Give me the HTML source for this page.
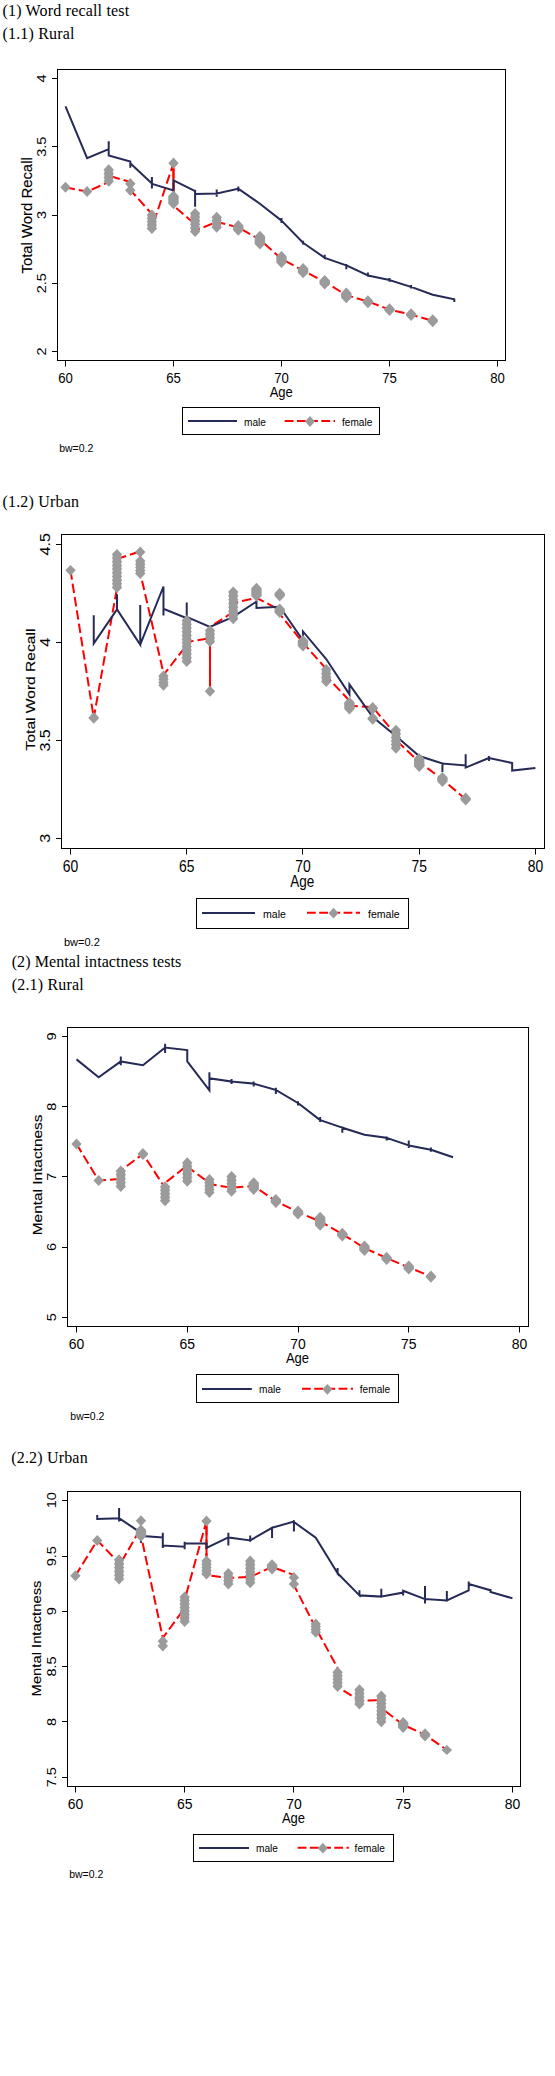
<!DOCTYPE html>
<html><head><meta charset="utf-8"><title>Word recall and mental intactness</title>
<style>
html,body{margin:0;padding:0;background:#fff;}
body{width:555px;height:2076px;position:relative;overflow:hidden;}
.t{position:absolute;left:0;font-family:"Liberation Serif", serif;font-size:16px;line-height:16px;color:#000;white-space:nowrap;letter-spacing:0.18px;}
svg{position:absolute;left:0;top:0;}
svg text{font-family:"Liberation Sans", sans-serif;fill:#000;}
</style></head><body>

<div class="t" style="left:2.5px;top:3.2px">(1) Word recall test</div>
<div class="t" style="left:2.5px;top:26.2px">(1.1) Rural</div>
<div class="t" style="left:2.5px;top:494.4px">(1.2) Urban</div>
<div class="t" style="left:11.7px;top:953.9px;letter-spacing:0.08px">(2) Mental intactness tests</div>
<div class="t" style="left:11.7px;top:977.1px">(2.1) Rural</div>
<div class="t" style="left:11.2px;top:1450.3px">(2.2) Urban</div>
<svg width="555" height="2076" viewBox="0 0 555 2076">
<rect x="57.5" y="69.5" width="448" height="291" fill="none" stroke="#000" stroke-width="1"/>
<line x1="52" y1="351.5" x2="57.5" y2="351.5" stroke="#000" stroke-width="1"/>
<text transform="translate(46.1 351.5) rotate(-90) scale(1 0.92)" text-anchor="middle" font-size="14.5">2</text>
<line x1="52" y1="283.5" x2="57.5" y2="283.5" stroke="#000" stroke-width="1"/>
<text transform="translate(46.1 283.25) rotate(-90) scale(1 0.92)" text-anchor="middle" font-size="14.5">2.5</text>
<line x1="52" y1="215.5" x2="57.5" y2="215.5" stroke="#000" stroke-width="1"/>
<text transform="translate(46.1 215) rotate(-90) scale(1 0.92)" text-anchor="middle" font-size="14.5">3</text>
<line x1="52" y1="146.5" x2="57.5" y2="146.5" stroke="#000" stroke-width="1"/>
<text transform="translate(46.1 146.75) rotate(-90) scale(1 0.92)" text-anchor="middle" font-size="14.5">3.5</text>
<line x1="52" y1="78.5" x2="57.5" y2="78.5" stroke="#000" stroke-width="1"/>
<text transform="translate(46.1 78.5) rotate(-90) scale(1 0.92)" text-anchor="middle" font-size="14.5">4</text>
<line x1="65.5" y1="360.5" x2="65.5" y2="366.5" stroke="#000" stroke-width="1"/>
<text transform="translate(65.5 383) scale(0.89 1)" text-anchor="middle" font-size="14.8">60</text>
<line x1="173.5" y1="360.5" x2="173.5" y2="366.5" stroke="#000" stroke-width="1"/>
<text transform="translate(173.5 383) scale(0.89 1)" text-anchor="middle" font-size="14.8">65</text>
<line x1="281.5" y1="360.5" x2="281.5" y2="366.5" stroke="#000" stroke-width="1"/>
<text transform="translate(281.5 383) scale(0.89 1)" text-anchor="middle" font-size="14.8">70</text>
<line x1="389.5" y1="360.5" x2="389.5" y2="366.5" stroke="#000" stroke-width="1"/>
<text transform="translate(389.5 383) scale(0.89 1)" text-anchor="middle" font-size="14.8">75</text>
<line x1="497.5" y1="360.5" x2="497.5" y2="366.5" stroke="#000" stroke-width="1"/>
<text transform="translate(497.5 383) scale(0.89 1)" text-anchor="middle" font-size="14.8">80</text>
<text transform="translate(281.2 396.5) scale(0.93 1)" text-anchor="middle" font-size="14">Age</text>
<text transform="translate(32.1 215.4) rotate(-90) scale(1 0.94)" text-anchor="middle" font-size="14.9" stroke="#000" stroke-width="0.15">Total Word Recall</text>
<polyline points="65.5,187.3 87.1,191.6 108.7,182 108.7,175.7 130.3,182 130.3,190 151.9,214 151.9,228 173.5,163.2 173.5,191.6 173.5,205.5 195.1,224.4 195.1,230.7 216.7,221.9 238.3,227.4 259.9,239.6 281.5,259 303.1,270.6 324.7,281.8 346.3,295.2 367.9,301.5 389.5,309.6 411.1,314.6 432.7,320.8" fill="none" stroke="#ff0000" stroke-width="2" stroke-dasharray="9.5 4" stroke-linejoin="round"/>
<line x1="173.5" y1="163.2" x2="173.5" y2="191.6" stroke="#ff0000" stroke-width="2"/>
<polyline points="65.5,106.4 87.1,158.1 108.7,149.2 108.7,141.2 108.7,155.5 130.3,161.5 130.3,167.7 130.3,161.1 130.3,163.2 151.9,183.4 151.9,177.1 151.9,188.5 151.9,183.8 173.5,190.4 173.5,180.3 195.1,191 195.1,206.7 195.1,189.7 195.1,194.1 216.7,193.6 216.7,189.6 216.7,196.7 216.7,193.6 238.3,188.6 238.3,186.6 238.3,191.6 238.3,188.6 259.9,203.7 281.5,220.6 281.5,218.1 281.5,223.1 281.5,220.6 303.1,242.8 303.1,240.8 303.1,244.6 303.1,242.8 324.7,257.8 324.7,254.8 324.7,259.1 324.7,257.8 346.3,265.4 346.3,264.1 346.3,269.2 346.3,265.4 367.9,275.5 367.9,272.5 367.9,276.8 367.9,275.5 389.5,280 389.5,278 389.5,281.8 389.5,280 411.1,286.9 411.1,285.1 411.1,288.6 411.1,286.9 432.7,294.8 454.3,299.3 454.3,302" fill="none" stroke="#262a56" stroke-width="2" stroke-linejoin="miter"/>
<path d="M65.5 181.8L70.7 187.3L65.5 192.8L60.3 187.3ZM87.1 186L92.3 191.5L87.1 197L81.9 191.5ZM108.7 164.3L113.9 169.8L108.7 175.3L103.5 169.8ZM108.7 168.13L113.9 173.63L108.7 179.13L103.5 173.63ZM108.7 171.97L113.9 177.47L108.7 182.97L103.5 177.47ZM108.7 175.8L113.9 181.3L108.7 186.8L103.5 181.3ZM108.7 164.3L113 168.9L113 182.2L108.7 186.8L104.4 182.2L104.4 168.9ZM130.3 178L135.5 183.75L130.3 189.5L125.1 183.75ZM130.3 184.5L135.5 190.25L130.3 196L125.1 190.25ZM151.9 209.5L157.1 215L151.9 220.5L146.7 215ZM151.9 212.88L157.1 218.38L151.9 223.88L146.7 218.38ZM151.9 216.25L157.1 221.75L151.9 227.25L146.7 221.75ZM151.9 219.62L157.1 225.12L151.9 230.62L146.7 225.12ZM151.9 223L157.1 228.5L151.9 234L146.7 228.5ZM151.9 209.5L156.2 214.1L156.2 229.4L151.9 234L147.6 229.4L147.6 214.1ZM173.5 157.6L178.7 163.2L173.5 168.8L168.3 163.2ZM173.5 190.4L178.7 195.9L178.7 203.8L173.5 209.3L168.3 203.8L168.3 195.9ZM195.1 208L200.3 213.5L195.1 219L189.9 213.5ZM195.1 211.6L200.3 217.1L195.1 222.6L189.9 217.1ZM195.1 215.2L200.3 220.7L195.1 226.2L189.9 220.7ZM195.1 218.8L200.3 224.3L195.1 229.8L189.9 224.3ZM195.1 222.4L200.3 227.9L195.1 233.4L189.9 227.9ZM195.1 226L200.3 231.5L195.1 237L189.9 231.5ZM195.1 208L199.4 212.6L199.4 232.4L195.1 237L190.8 232.4L190.8 212.6ZM216.7 211.8L221.9 217.3L216.7 222.8L211.5 217.3ZM216.7 215.1L221.9 220.6L216.7 226.1L211.5 220.6ZM216.7 218.4L221.9 223.9L216.7 229.4L211.5 223.9ZM216.7 221.7L221.9 227.2L216.7 232.7L211.5 227.2ZM216.7 211.8L221 216.4L221 228.1L216.7 232.7L212.4 228.1L212.4 216.4ZM238.3 219.9L243.5 225.4L243.5 230.3L238.3 235.8L233.1 230.3L233.1 225.4ZM259.9 230.7L265.1 236.2L265.1 244.1L259.9 249.6L254.7 244.1L254.7 236.2ZM281.5 250.9L286.7 256.4L286.7 262.5L281.5 268L276.3 262.5L276.3 256.4ZM303.1 263L308.3 268.5L308.3 272.7L303.1 278.2L297.9 272.7L297.9 268.5ZM324.7 275L329.9 280.5L329.9 283.9L324.7 289.4L319.5 283.9L319.5 280.5ZM346.3 287.6L351.5 293.1L351.5 297.7L346.3 303.2L341.1 297.7L341.1 293.1ZM367.9 295.2L373.1 300.7L373.1 302.8L367.9 308.3L362.7 302.8L362.7 300.7ZM389.5 303.2L394.7 308.7L394.7 310.4L389.5 315.9L384.3 310.4L384.3 308.7ZM411.1 308.3L416.3 313.8L416.3 315.4L411.1 320.9L405.9 315.4L405.9 313.8ZM432.7 314.2L437.9 319.7L437.9 321.8L432.7 327.3L427.5 321.8L427.5 319.7Z" fill="#9b9b9b"/>
<rect x="182.5" y="407.5" width="197" height="27" fill="none" stroke="#000" stroke-width="1"/>
<line x1="188" y1="421" x2="237" y2="421" stroke="#262a56" stroke-width="2"/>
<text transform="translate(244 426) scale(0.92 1)" font-size="11">male</text>
<line x1="284.7" y1="421" x2="335" y2="421" stroke="#ff0000" stroke-width="2" stroke-dasharray="8.8 3.4"/>
<path d="M310 416.1L315 421.5L310 426.9L305 421.5Z" fill="#9b9b9b"/>
<text transform="translate(342 425.7) scale(0.92 1)" font-size="11">female</text>
<text transform="translate(59.2 451.6) scale(1 1)" font-size="10.5">bw=0.2</text>
<rect x="61.5" y="534.5" width="483" height="314" fill="none" stroke="#000" stroke-width="1"/>
<line x1="56" y1="838.5" x2="61.5" y2="838.5" stroke="#000" stroke-width="1"/>
<text transform="translate(50.3 838.4) rotate(-90) scale(1 0.94)" text-anchor="middle" font-size="16">3</text>
<line x1="56" y1="740.5" x2="61.5" y2="740.5" stroke="#000" stroke-width="1"/>
<text transform="translate(50.3 740.4) rotate(-90) scale(1 0.94)" text-anchor="middle" font-size="16">3.5</text>
<line x1="56" y1="642.5" x2="61.5" y2="642.5" stroke="#000" stroke-width="1"/>
<text transform="translate(50.3 642.3) rotate(-90) scale(1 0.94)" text-anchor="middle" font-size="16">4</text>
<line x1="56" y1="544.5" x2="61.5" y2="544.5" stroke="#000" stroke-width="1"/>
<text transform="translate(50.3 544.3) rotate(-90) scale(1 0.94)" text-anchor="middle" font-size="16">4.5</text>
<line x1="70.5" y1="848.5" x2="70.5" y2="854.5" stroke="#000" stroke-width="1"/>
<text transform="translate(70.5 871.8) scale(0.86 1)" text-anchor="middle" font-size="16.2">60</text>
<line x1="186.5" y1="848.5" x2="186.5" y2="854.5" stroke="#000" stroke-width="1"/>
<text transform="translate(186.73 871.8) scale(0.86 1)" text-anchor="middle" font-size="16.2">65</text>
<line x1="302.5" y1="848.5" x2="302.5" y2="854.5" stroke="#000" stroke-width="1"/>
<text transform="translate(302.95 871.8) scale(0.86 1)" text-anchor="middle" font-size="16.2">70</text>
<line x1="419.5" y1="848.5" x2="419.5" y2="854.5" stroke="#000" stroke-width="1"/>
<text transform="translate(419.18 871.8) scale(0.86 1)" text-anchor="middle" font-size="16.2">75</text>
<line x1="535.5" y1="848.5" x2="535.5" y2="854.5" stroke="#000" stroke-width="1"/>
<text transform="translate(535.4 871.8) scale(0.86 1)" text-anchor="middle" font-size="16.2">80</text>
<text transform="translate(302.2 886.6) scale(0.84 1)" text-anchor="middle" font-size="16.1">Age</text>
<text transform="translate(34.6 689.5) rotate(-90) scale(1 0.86)" text-anchor="middle" font-size="15.6" stroke="#000" stroke-width="0.15">Total Word Recall</text>
<polyline points="70.5,570.3 93.75,717.9 116.99,588 116.99,559 140.24,551.4 140.24,573 163.48,673 163.48,675 186.73,645 186.73,642 209.97,638.2 209.97,691.2 209.97,627 233.22,612 233.22,603 256.46,597.8 279.71,610 279.71,614 302.95,642.7 326.2,669 326.2,676 349.44,700.7 349.44,705.8 372.69,707 395.93,735 395.93,740 419.18,762 442.42,779.4 465.67,799.2" fill="none" stroke="#ff0000" stroke-width="2" stroke-dasharray="9.5 4" stroke-linejoin="round"/>
<line x1="209.97" y1="645" x2="209.97" y2="691.2" stroke="#ff0000" stroke-width="2"/>
<polyline points="93.75,615.2 93.75,643.5 116.99,609.4 116.99,594.3 116.99,609.4 140.24,644.7 140.24,605.1 140.24,644.7 163.48,586.5 163.48,615.6 163.48,608.8 186.73,618.2 186.73,602.4 186.73,616.8 209.97,626.9 233.22,616.8 256.46,601.6 256.46,608 279.71,606.7 302.95,640.2 302.95,631.4 326.2,659 349.44,694.4 349.44,684.3 372.69,717.1 395.93,736 419.18,756 442.42,763.5 442.42,762.5 442.42,771.9 442.42,763.5 465.67,765.5 465.67,754.2 465.67,767.6 488.91,758 488.91,756 488.91,761 488.91,758 512.15,763 512.15,770.6 535.4,768.1" fill="none" stroke="#262a56" stroke-width="2" stroke-linejoin="miter"/>
<path d="M70.5 564.9L75.7 570.3L70.5 575.7L65.3 570.3ZM93.75 712L98.95 717.5L98.95 718.3L93.75 723.8L88.55 718.3L88.55 717.5ZM116.99 548.9L122.19 554.4L116.99 559.9L111.79 554.4ZM116.99 552.58L122.19 558.08L116.99 563.58L111.79 558.08ZM116.99 556.26L122.19 561.76L116.99 567.26L111.79 561.76ZM116.99 559.93L122.19 565.43L116.99 570.93L111.79 565.43ZM116.99 563.61L122.19 569.11L116.99 574.61L111.79 569.11ZM116.99 567.29L122.19 572.79L116.99 578.29L111.79 572.79ZM116.99 570.97L122.19 576.47L116.99 581.97L111.79 576.47ZM116.99 574.64L122.19 580.14L116.99 585.64L111.79 580.14ZM116.99 578.32L122.19 583.82L116.99 589.32L111.79 583.82ZM116.99 582L122.19 587.5L116.99 593L111.79 587.5ZM116.99 548.9L121.29 553.5L121.29 588.4L116.99 593L112.69 588.4L112.69 553.5ZM140.24 546.4L145.44 551.9L140.24 557.4L135.04 551.9ZM140.24 555.5L145.44 561L140.24 566.5L135.04 561ZM140.24 558.65L145.44 564.15L140.24 569.65L135.04 564.15ZM140.24 561.8L145.44 567.3L140.24 572.8L135.04 567.3ZM140.24 564.95L145.44 570.45L140.24 575.95L135.04 570.45ZM140.24 568.1L145.44 573.6L140.24 579.1L135.04 573.6ZM140.24 555.5L144.54 560.1L144.54 574.5L140.24 579.1L135.94 574.5L135.94 560.1ZM163.48 670.6L168.68 676.1L163.48 681.6L158.28 676.1ZM163.48 673.67L168.68 679.17L163.48 684.67L158.28 679.17ZM163.48 676.73L168.68 682.23L163.48 687.73L158.28 682.23ZM163.48 679.8L168.68 685.3L163.48 690.8L158.28 685.3ZM163.48 670.6L167.78 675.2L167.78 686.2L163.48 690.8L159.18 686.2L159.18 675.2ZM186.73 615L191.93 620.5L186.73 626L181.53 620.5ZM186.73 618.73L191.93 624.23L186.73 629.73L181.53 624.23ZM186.73 622.45L191.93 627.95L186.73 633.45L181.53 627.95ZM186.73 626.18L191.93 631.68L186.73 637.18L181.53 631.68ZM186.73 629.91L191.93 635.41L186.73 640.91L181.53 635.41ZM186.73 633.64L191.93 639.14L186.73 644.64L181.53 639.14ZM186.73 637.36L191.93 642.86L186.73 648.36L181.53 642.86ZM186.73 641.09L191.93 646.59L186.73 652.09L181.53 646.59ZM186.73 644.82L191.93 650.32L186.73 655.82L181.53 650.32ZM186.73 648.55L191.93 654.05L186.73 659.55L181.53 654.05ZM186.73 652.27L191.93 657.77L186.73 663.27L181.53 657.77ZM186.73 656L191.93 661.5L186.73 667L181.53 661.5ZM186.73 615L191.03 619.6L191.03 662.4L186.73 667L182.43 662.4L182.43 619.6ZM209.97 625L215.17 630.5L209.97 636L204.77 630.5ZM209.97 628.67L215.17 634.17L209.97 639.67L204.77 634.17ZM209.97 632.33L215.17 637.83L209.97 643.33L204.77 637.83ZM209.97 636L215.17 641.5L209.97 647L204.77 641.5ZM209.97 625L214.27 629.6L214.27 642.4L209.97 647L205.67 642.4L205.67 629.6ZM209.97 685.7L215.17 691.2L209.97 696.7L204.77 691.2ZM233.22 586.5L238.41 592L233.22 597.5L228.02 592ZM233.22 590.33L238.41 595.83L233.22 601.33L228.02 595.83ZM233.22 594.16L238.41 599.66L233.22 605.16L228.02 599.66ZM233.22 597.99L238.41 603.49L233.22 608.99L228.02 603.49ZM233.22 601.81L238.41 607.31L233.22 612.81L228.02 607.31ZM233.22 605.64L238.41 611.14L233.22 616.64L228.02 611.14ZM233.22 609.47L238.41 614.97L233.22 620.47L228.02 614.97ZM233.22 613.3L238.41 618.8L233.22 624.3L228.02 618.8ZM233.22 586.5L237.52 591.1L237.52 619.7L233.22 624.3L228.91 619.7L228.91 591.1ZM256.46 582.7L261.66 588.2L261.66 596.1L256.46 601.6L251.26 596.1L251.26 588.2ZM279.71 587.7L284.91 593.2L284.91 596L279.71 601.5L274.51 596L274.51 593.2ZM279.71 603.5L284.91 609L284.91 612.5L279.71 618L274.51 612.5L274.51 609ZM302.95 635L308.15 640.5L308.15 646L302.95 651.5L297.75 646L297.75 640.5ZM326.2 664L331.4 669.5L326.2 675L321 669.5ZM326.2 667.97L331.4 673.47L326.2 678.97L321 673.47ZM326.2 671.93L331.4 677.43L326.2 682.93L321 677.43ZM326.2 675.9L331.4 681.4L326.2 686.9L321 681.4ZM326.2 664L330.5 668.6L330.5 682.3L326.2 686.9L321.9 682.3L321.9 668.6ZM349.44 697L354.64 702.5L354.64 709.1L349.44 714.6L344.24 709.1L344.24 702.5ZM372.69 702L377.88 707.5L377.88 709L372.69 714.5L367.49 709L367.49 707.5ZM372.69 712.5L377.88 718L377.88 719.2L372.69 724.7L367.49 719.2L367.49 718ZM395.93 724.7L401.13 730.2L395.93 735.7L390.73 730.2ZM395.93 728.3L401.13 733.8L395.93 739.3L390.73 733.8ZM395.93 731.9L401.13 737.4L395.93 742.9L390.73 737.4ZM395.93 735.5L401.13 741L395.93 746.5L390.73 741ZM395.93 739.1L401.13 744.6L395.93 750.1L390.73 744.6ZM395.93 742.7L401.13 748.2L395.93 753.7L390.73 748.2ZM395.93 724.7L400.23 729.3L400.23 749.1L395.93 753.7L391.63 749.1L391.63 729.3ZM419.18 753L424.38 758.5L424.38 766.4L419.18 771.9L413.98 766.4L413.98 758.5ZM442.42 771.9L447.62 777.4L447.62 781.5L442.42 787L437.22 781.5L437.22 777.4ZM465.67 792.5L470.87 798L470.87 800L465.67 805.5L460.47 800L460.47 798Z" fill="#9b9b9b"/>
<rect x="196.5" y="898.5" width="212" height="30" fill="none" stroke="#000" stroke-width="1"/>
<line x1="202" y1="913" x2="255" y2="913" stroke="#262a56" stroke-width="2"/>
<text transform="translate(263 917.9) scale(0.92 1)" font-size="11.5">male</text>
<line x1="307" y1="912.7" x2="360" y2="912.7" stroke="#ff0000" stroke-width="2" stroke-dasharray="8.8 3.4"/>
<path d="M333.5 907.8L338.5 913.2L333.5 918.6L328.5 913.2Z" fill="#9b9b9b"/>
<text transform="translate(368 918) scale(0.92 1)" font-size="11.5">female</text>
<text transform="translate(64 945.9) scale(1 1)" font-size="11">bw=0.2</text>
<rect x="67.5" y="1027.5" width="461" height="299" fill="none" stroke="#000" stroke-width="1"/>
<line x1="62" y1="1317.5" x2="67.5" y2="1317.5" stroke="#000" stroke-width="1"/>
<text transform="translate(55.6 1317.2) rotate(-90) scale(1 0.94)" text-anchor="middle" font-size="14.5">5</text>
<line x1="62" y1="1247.5" x2="67.5" y2="1247.5" stroke="#000" stroke-width="1"/>
<text transform="translate(55.6 1247) rotate(-90) scale(1 0.94)" text-anchor="middle" font-size="14.5">6</text>
<line x1="62" y1="1176.5" x2="67.5" y2="1176.5" stroke="#000" stroke-width="1"/>
<text transform="translate(55.6 1176.8) rotate(-90) scale(1 0.94)" text-anchor="middle" font-size="14.5">7</text>
<line x1="62" y1="1106.5" x2="67.5" y2="1106.5" stroke="#000" stroke-width="1"/>
<text transform="translate(55.6 1106.7) rotate(-90) scale(1 0.94)" text-anchor="middle" font-size="14.5">8</text>
<line x1="62" y1="1036.5" x2="67.5" y2="1036.5" stroke="#000" stroke-width="1"/>
<text transform="translate(55.6 1036.5) rotate(-90) scale(1 0.94)" text-anchor="middle" font-size="14.5">9</text>
<line x1="76.5" y1="1326.5" x2="76.5" y2="1332.5" stroke="#000" stroke-width="1"/>
<text transform="translate(76.5 1349) scale(0.9 1)" text-anchor="middle" font-size="15.5">60</text>
<line x1="187.5" y1="1326.5" x2="187.5" y2="1332.5" stroke="#000" stroke-width="1"/>
<text transform="translate(187.25 1349) scale(0.9 1)" text-anchor="middle" font-size="15.5">65</text>
<line x1="298.5" y1="1326.5" x2="298.5" y2="1332.5" stroke="#000" stroke-width="1"/>
<text transform="translate(298 1349) scale(0.9 1)" text-anchor="middle" font-size="15.5">70</text>
<line x1="408.5" y1="1326.5" x2="408.5" y2="1332.5" stroke="#000" stroke-width="1"/>
<text transform="translate(408.75 1349) scale(0.9 1)" text-anchor="middle" font-size="15.5">75</text>
<line x1="519.5" y1="1326.5" x2="519.5" y2="1332.5" stroke="#000" stroke-width="1"/>
<text transform="translate(519.5 1349) scale(0.9 1)" text-anchor="middle" font-size="15.5">80</text>
<text transform="translate(297.5 1363.4) scale(0.93 1)" text-anchor="middle" font-size="14">Age</text>
<text transform="translate(42 1174.9) rotate(-90) scale(1 0.85)" text-anchor="middle" font-size="15.4" stroke="#000" stroke-width="0.15">Mental Intactness</text>
<polyline points="76.5,1144 98.65,1180.5 120.8,1179 120.8,1170.5 142.95,1154 165.1,1188 165.1,1183 187.25,1165.4 187.25,1166.7 209.4,1183 209.4,1184 231.55,1187.8 253.7,1186 275.85,1201 298,1212.3 320.15,1221.4 342.3,1234 364.45,1248 386.6,1258 408.75,1267.4 430.9,1276.4" fill="none" stroke="#ff0000" stroke-width="2" stroke-dasharray="9.5 4" stroke-linejoin="round"/>
<polyline points="76.5,1059.4 98.65,1077.3 120.8,1061.4 120.8,1056.4 120.8,1065.2 120.8,1061.4 142.95,1065.2 165.1,1047.6 165.1,1043.8 165.1,1053.1 165.1,1047.6 187.25,1050.1 187.25,1061.4 209.4,1090.4 209.4,1072.2 209.4,1078.3 231.55,1081.5 231.55,1079 231.55,1084 231.55,1081.5 253.7,1083.6 253.7,1081.5 253.7,1086.6 253.7,1083.6 275.85,1089.9 275.85,1087.8 275.85,1094.1 275.85,1089.9 298,1103 298,1101.2 298,1105.5 298,1103 320.15,1120.1 320.15,1116.9 320.15,1121.9 320.15,1120.1 342.3,1127.7 342.3,1126.5 342.3,1132.8 342.3,1127.7 364.45,1134.8 386.6,1137.8 386.6,1136.6 386.6,1140.4 386.6,1137.8 408.75,1145.4 408.75,1140.4 408.75,1147.9 408.75,1145.4 430.9,1149.7 430.9,1147.4 430.9,1151.7 430.9,1149.7 453.05,1157.3" fill="none" stroke="#262a56" stroke-width="2" stroke-linejoin="miter"/>
<path d="M76.5 1138.5L81.7 1144L76.5 1149.5L71.3 1144ZM98.65 1175L103.85 1180.5L98.65 1186L93.45 1180.5ZM120.8 1165.4L126 1170.9L120.8 1176.4L115.6 1170.9ZM120.8 1169.28L126 1174.78L120.8 1180.28L115.6 1174.78ZM120.8 1173.15L126 1178.65L120.8 1184.15L115.6 1178.65ZM120.8 1177.03L126 1182.53L120.8 1188.03L115.6 1182.53ZM120.8 1180.9L126 1186.4L120.8 1191.9L115.6 1186.4ZM120.8 1165.4L125.1 1170L125.1 1187.3L120.8 1191.9L116.5 1187.3L116.5 1170ZM142.95 1148L148.15 1153.5L148.15 1154.5L142.95 1160L137.75 1154.5L137.75 1153.5ZM165.1 1181.3L170.3 1186.8L165.1 1192.3L159.9 1186.8ZM165.1 1184.8L170.3 1190.3L165.1 1195.8L159.9 1190.3ZM165.1 1188.3L170.3 1193.8L165.1 1199.3L159.9 1193.8ZM165.1 1191.8L170.3 1197.3L165.1 1202.8L159.9 1197.3ZM165.1 1195.3L170.3 1200.8L165.1 1206.3L159.9 1200.8ZM165.1 1181.3L169.4 1185.9L169.4 1201.7L165.1 1206.3L160.8 1201.7L160.8 1185.9ZM187.25 1157.3L192.45 1162.8L187.25 1168.3L182.05 1162.8ZM187.25 1161L192.45 1166.5L187.25 1172L182.05 1166.5ZM187.25 1164.7L192.45 1170.2L187.25 1175.7L182.05 1170.2ZM187.25 1168.4L192.45 1173.9L187.25 1179.4L182.05 1173.9ZM187.25 1172.1L192.45 1177.6L187.25 1183.1L182.05 1177.6ZM187.25 1175.8L192.45 1181.3L187.25 1186.8L182.05 1181.3ZM187.25 1157.3L191.55 1161.9L191.55 1182.2L187.25 1186.8L182.95 1182.2L182.95 1161.9ZM209.4 1174L214.6 1179.5L209.4 1185L204.2 1179.5ZM209.4 1177.22L214.6 1182.72L209.4 1188.22L204.2 1182.72ZM209.4 1180.45L214.6 1185.95L209.4 1191.45L204.2 1185.95ZM209.4 1183.68L214.6 1189.18L209.4 1194.68L204.2 1189.18ZM209.4 1186.9L214.6 1192.4L209.4 1197.9L204.2 1192.4ZM209.4 1174L213.7 1178.6L213.7 1193.3L209.4 1197.9L205.1 1193.3L205.1 1178.6ZM231.55 1171L236.75 1176.5L231.55 1182L226.35 1176.5ZM231.55 1174.67L236.75 1180.17L231.55 1185.67L226.35 1180.17ZM231.55 1178.35L236.75 1183.85L231.55 1189.35L226.35 1183.85ZM231.55 1182.03L236.75 1187.53L231.55 1193.03L226.35 1187.53ZM231.55 1185.7L236.75 1191.2L231.55 1196.7L226.35 1191.2ZM231.55 1171L235.85 1175.6L235.85 1192.1L231.55 1196.7L227.25 1192.1L227.25 1175.6ZM253.7 1177.2L258.9 1182.7L258.9 1189.4L253.7 1194.9L248.5 1189.4L248.5 1182.7ZM275.85 1194L281.05 1199.5L281.05 1202.5L275.85 1208L270.65 1202.5L270.65 1199.5ZM298 1205.5L303.2 1211L303.2 1213.9L298 1219.4L292.8 1213.9L292.8 1211ZM320.15 1211.8L325.35 1217.3L325.35 1225.2L320.15 1230.7L314.95 1225.2L314.95 1217.3ZM342.3 1227.7L347.5 1233.2L347.5 1236.1L342.3 1241.6L337.1 1236.1L337.1 1233.2ZM364.45 1240.4L369.65 1245.9L369.65 1250.5L364.45 1256L359.25 1250.5L359.25 1245.9ZM386.6 1251.7L391.8 1257.2L391.8 1259.5L386.6 1265L381.4 1259.5L381.4 1257.2ZM408.75 1260.5L413.95 1266L413.95 1268.9L408.75 1274.4L403.55 1268.9L403.55 1266ZM430.9 1270.6L436.1 1276.1L436.1 1277.2L430.9 1282.7L425.7 1277.2L425.7 1276.1Z" fill="#9b9b9b"/>
<rect x="196.5" y="1374.5" width="202" height="28" fill="none" stroke="#000" stroke-width="1"/>
<line x1="202" y1="1389" x2="251.8" y2="1389" stroke="#262a56" stroke-width="2"/>
<text transform="translate(259 1392.7) scale(0.92 1)" font-size="11">male</text>
<line x1="302" y1="1388.8" x2="353" y2="1388.8" stroke="#ff0000" stroke-width="2" stroke-dasharray="8.8 3.4"/>
<path d="M327.4 1383.9L332.4 1389.3L327.4 1394.7L322.4 1389.3Z" fill="#9b9b9b"/>
<text transform="translate(359.8 1392.7) scale(0.92 1)" font-size="11">female</text>
<text transform="translate(70.3 1419.9) scale(1 1)" font-size="10.5">bw=0.2</text>
<rect x="67.5" y="1491.5" width="453" height="295" fill="none" stroke="#000" stroke-width="1"/>
<line x1="62" y1="1777.5" x2="67.5" y2="1777.5" stroke="#000" stroke-width="1"/>
<text transform="translate(55.5 1777.3) rotate(-90) scale(1 0.92)" text-anchor="middle" font-size="14.5">7.5</text>
<line x1="62" y1="1721.5" x2="67.5" y2="1721.5" stroke="#000" stroke-width="1"/>
<text transform="translate(55.5 1721.9) rotate(-90) scale(1 0.92)" text-anchor="middle" font-size="14.5">8</text>
<line x1="62" y1="1666.5" x2="67.5" y2="1666.5" stroke="#000" stroke-width="1"/>
<text transform="translate(55.5 1666.5) rotate(-90) scale(1 0.92)" text-anchor="middle" font-size="14.5">8.5</text>
<line x1="62" y1="1611.5" x2="67.5" y2="1611.5" stroke="#000" stroke-width="1"/>
<text transform="translate(55.5 1611.1) rotate(-90) scale(1 0.92)" text-anchor="middle" font-size="14.5">9</text>
<line x1="62" y1="1556.5" x2="67.5" y2="1556.5" stroke="#000" stroke-width="1"/>
<text transform="translate(55.5 1556.2) rotate(-90) scale(1 0.92)" text-anchor="middle" font-size="14.5">9.5</text>
<line x1="62" y1="1500.5" x2="67.5" y2="1500.5" stroke="#000" stroke-width="1"/>
<text transform="translate(55.5 1500.3) rotate(-90) scale(1 0.92)" text-anchor="middle" font-size="14.5">10</text>
<line x1="75.5" y1="1786.5" x2="75.5" y2="1792.5" stroke="#000" stroke-width="1"/>
<text transform="translate(75.4 1808.8) scale(0.9 1)" text-anchor="middle" font-size="15.5">60</text>
<line x1="184.5" y1="1786.5" x2="184.5" y2="1792.5" stroke="#000" stroke-width="1"/>
<text transform="translate(184.65 1808.8) scale(0.9 1)" text-anchor="middle" font-size="15.5">65</text>
<line x1="293.5" y1="1786.5" x2="293.5" y2="1792.5" stroke="#000" stroke-width="1"/>
<text transform="translate(293.9 1808.8) scale(0.9 1)" text-anchor="middle" font-size="15.5">70</text>
<line x1="403.5" y1="1786.5" x2="403.5" y2="1792.5" stroke="#000" stroke-width="1"/>
<text transform="translate(403.15 1808.8) scale(0.9 1)" text-anchor="middle" font-size="15.5">75</text>
<line x1="512.5" y1="1786.5" x2="512.5" y2="1792.5" stroke="#000" stroke-width="1"/>
<text transform="translate(512.4 1808.8) scale(0.9 1)" text-anchor="middle" font-size="15.5">80</text>
<text transform="translate(293.5 1822.8) scale(0.93 1)" text-anchor="middle" font-size="14">Age</text>
<text transform="translate(41.4 1638.5) rotate(-90) scale(1 0.85)" text-anchor="middle" font-size="14.8" stroke="#000" stroke-width="0.15">Mental Intactness</text>
<polyline points="75.4,1575.7 97.25,1540.4 119.1,1563 119.1,1566 140.95,1527.8 140.95,1535 162.8,1638 184.65,1608 184.65,1600 206.5,1521 206.5,1560 206.5,1575 228.35,1578 250.2,1577 272.05,1566.9 293.9,1575 293.9,1585 315.75,1628 337.6,1668 337.6,1686.8 359.45,1700.7 381.3,1700 381.3,1708 403.15,1724.8 425,1734.7 446.85,1750" fill="none" stroke="#ff0000" stroke-width="2" stroke-dasharray="9.5 4" stroke-linejoin="round"/>
<line x1="206.5" y1="1521" x2="206.5" y2="1556" stroke="#ff0000" stroke-width="2"/>
<polyline points="97.25,1516.4 97.25,1515 97.25,1519 119.1,1518.2 119.1,1508 119.1,1521.5 119.1,1518.2 140.95,1532.8 140.95,1542.9 140.95,1535.9 162.8,1537.4 162.8,1532.8 162.8,1548 162.8,1545.5 184.65,1546.7 184.65,1541.7 184.65,1549.2 184.65,1543.4 206.5,1543.4 206.5,1548 228.35,1537.4 228.35,1532.8 228.35,1545.5 228.35,1537.4 250.2,1540.4 250.2,1535.4 250.2,1541.7 250.2,1540.4 272.05,1527.8 272.05,1537.9 272.05,1527.8 293.9,1521.5 293.9,1531.6 293.9,1522 315.75,1537.8 337.6,1573.2 337.6,1568 337.6,1574.4 337.6,1573.2 359.45,1595.4 359.45,1590.3 359.45,1596 359.45,1595.4 381.3,1596.6 381.3,1588.8 381.3,1597.1 381.3,1596.6 403.15,1592.6 403.15,1590.3 403.15,1595.4 403.15,1590.8 425,1599.1 425,1586 425,1603.4 425,1599.1 446.85,1600.4 446.85,1591 446.85,1600.4 468.7,1590.3 468.7,1581.4 468.7,1584 490.55,1590.3 490.55,1589 490.55,1592 512.4,1598.3" fill="none" stroke="#262a56" stroke-width="2" stroke-linejoin="miter"/>
<path d="M75.4 1570.2L80.6 1575.7L75.4 1581.2L70.2 1575.7ZM97.25 1534.9L102.45 1540.4L97.25 1545.9L92.05 1540.4ZM119.1 1554.3L124.3 1559.8L119.1 1565.3L113.9 1559.8ZM119.1 1558.16L124.3 1563.66L119.1 1569.16L113.9 1563.66ZM119.1 1562.02L124.3 1567.52L119.1 1573.02L113.9 1567.52ZM119.1 1565.88L124.3 1571.38L119.1 1576.88L113.9 1571.38ZM119.1 1569.74L124.3 1575.24L119.1 1580.74L113.9 1575.24ZM119.1 1573.6L124.3 1579.1L119.1 1584.6L113.9 1579.1ZM119.1 1554.3L123.4 1558.9L123.4 1580L119.1 1584.6L114.8 1580L114.8 1558.9ZM140.95 1515.2L146.15 1520.7L140.95 1526.2L135.75 1520.7ZM140.95 1524.5L146.15 1530L146.15 1536.2L140.95 1541.7L135.75 1536.2L135.75 1530ZM162.8 1635.7L168 1641.2L162.8 1646.7L157.6 1641.2ZM162.8 1640.5L168 1646L162.8 1651.5L157.6 1646ZM184.65 1591.5L189.85 1597L184.65 1602.5L179.45 1597ZM184.65 1594.99L189.85 1600.49L184.65 1605.99L179.45 1600.49ZM184.65 1598.47L189.85 1603.97L184.65 1609.47L179.45 1603.97ZM184.65 1601.96L189.85 1607.46L184.65 1612.96L179.45 1607.46ZM184.65 1605.44L189.85 1610.94L184.65 1616.44L179.45 1610.94ZM184.65 1608.93L189.85 1614.43L184.65 1619.93L179.45 1614.43ZM184.65 1612.41L189.85 1617.91L184.65 1623.41L179.45 1617.91ZM184.65 1615.9L189.85 1621.4L184.65 1626.9L179.45 1621.4ZM184.65 1591.5L188.95 1596.1L188.95 1622.3L184.65 1626.9L180.35 1622.3L180.35 1596.1ZM206.5 1515.5L211.7 1521L206.5 1526.5L201.3 1521ZM206.5 1555.5L211.7 1561L206.5 1566.5L201.3 1561ZM206.5 1558.75L211.7 1564.25L206.5 1569.75L201.3 1564.25ZM206.5 1562L211.7 1567.5L206.5 1573L201.3 1567.5ZM206.5 1565.25L211.7 1570.75L206.5 1576.25L201.3 1570.75ZM206.5 1568.5L211.7 1574L206.5 1579.5L201.3 1574ZM206.5 1555.5L210.8 1560.1L210.8 1574.9L206.5 1579.5L202.2 1574.9L202.2 1560.1ZM228.35 1568L233.55 1573.5L228.35 1579L223.15 1573.5ZM228.35 1571.53L233.55 1577.03L228.35 1582.53L223.15 1577.03ZM228.35 1575.07L233.55 1580.57L228.35 1586.07L223.15 1580.57ZM228.35 1578.6L233.55 1584.1L228.35 1589.6L223.15 1584.1ZM228.35 1568L232.65 1572.6L232.65 1585L228.35 1589.6L224.05 1585L224.05 1572.6ZM250.2 1555.5L255.4 1561L250.2 1566.5L245 1561ZM250.2 1559.13L255.4 1564.63L250.2 1570.13L245 1564.63ZM250.2 1562.77L255.4 1568.27L250.2 1573.77L245 1568.27ZM250.2 1566.4L255.4 1571.9L250.2 1577.4L245 1571.9ZM250.2 1570.03L255.4 1575.53L250.2 1581.03L245 1575.53ZM250.2 1573.67L255.4 1579.17L250.2 1584.67L245 1579.17ZM250.2 1577.3L255.4 1582.8L250.2 1588.3L245 1582.8ZM250.2 1555.5L254.5 1560.1L254.5 1583.7L250.2 1588.3L245.9 1583.7L245.9 1560.1ZM272.05 1559.3L277.25 1564.8L277.25 1569L272.05 1574.5L266.85 1569L266.85 1564.8ZM293.9 1572L299.1 1577.5L293.9 1583L288.7 1577.5ZM293.9 1578.6L299.1 1584.1L293.9 1589.6L288.7 1584.1ZM315.75 1618.6L320.95 1624.1L315.75 1629.6L310.55 1624.1ZM315.75 1621.3L320.95 1626.8L315.75 1632.3L310.55 1626.8ZM315.75 1624L320.95 1629.5L315.75 1635L310.55 1629.5ZM315.75 1626.7L320.95 1632.2L315.75 1637.7L310.55 1632.2ZM315.75 1618.6L320.05 1623.2L320.05 1633.1L315.75 1637.7L311.45 1633.1L311.45 1623.2ZM337.6 1666.7L342.8 1672.2L337.6 1677.7L332.4 1672.2ZM337.6 1670.25L342.8 1675.75L337.6 1681.25L332.4 1675.75ZM337.6 1673.8L342.8 1679.3L337.6 1684.8L332.4 1679.3ZM337.6 1677.35L342.8 1682.85L337.6 1688.35L332.4 1682.85ZM337.6 1680.9L342.8 1686.4L337.6 1691.9L332.4 1686.4ZM337.6 1666.7L341.9 1671.3L341.9 1687.3L337.6 1691.9L333.3 1687.3L333.3 1671.3ZM359.45 1684.3L364.65 1689.8L359.45 1695.3L354.25 1689.8ZM359.45 1687.88L364.65 1693.38L359.45 1698.88L354.25 1693.38ZM359.45 1691.45L364.65 1696.95L359.45 1702.45L354.25 1696.95ZM359.45 1695.02L364.65 1700.52L359.45 1706.02L354.25 1700.52ZM359.45 1698.6L364.65 1704.1L359.45 1709.6L354.25 1704.1ZM359.45 1684.3L363.75 1688.9L363.75 1705L359.45 1709.6L355.15 1705L355.15 1688.9ZM381.3 1690.6L386.5 1696.1L381.3 1701.6L376.1 1696.1ZM381.3 1694.26L386.5 1699.76L381.3 1705.26L376.1 1699.76ZM381.3 1697.91L386.5 1703.41L381.3 1708.91L376.1 1703.41ZM381.3 1701.57L386.5 1707.07L381.3 1712.57L376.1 1707.07ZM381.3 1705.23L386.5 1710.73L381.3 1716.23L376.1 1710.73ZM381.3 1708.89L386.5 1714.39L381.3 1719.89L376.1 1714.39ZM381.3 1712.54L386.5 1718.04L381.3 1723.54L376.1 1718.04ZM381.3 1716.2L386.5 1721.7L381.3 1727.2L376.1 1721.7ZM381.3 1690.6L385.6 1695.2L385.6 1722.6L381.3 1727.2L377 1722.6L377 1695.2ZM403.15 1717L408.35 1722.5L408.35 1727.4L403.15 1732.9L397.95 1727.4L397.95 1722.5ZM425 1728.2L430.2 1733.7L430.2 1735.9L425 1741.4L419.8 1735.9L419.8 1733.7ZM446.85 1745L452.05 1749.95L446.85 1754.9L441.65 1749.95Z" fill="#9b9b9b"/>
<rect x="193.5" y="1834.5" width="200" height="27" fill="none" stroke="#000" stroke-width="1"/>
<line x1="199" y1="1848" x2="249" y2="1848" stroke="#262a56" stroke-width="2"/>
<text transform="translate(256 1851.7) scale(0.92 1)" font-size="11">male</text>
<line x1="297.7" y1="1847.7" x2="348.8" y2="1847.7" stroke="#ff0000" stroke-width="2" stroke-dasharray="8.8 3.4"/>
<path d="M322.8 1842.8L327.8 1848.2L322.8 1853.6L317.8 1848.2Z" fill="#9b9b9b"/>
<text transform="translate(354.6 1851.7) scale(0.92 1)" font-size="11">female</text>
<text transform="translate(69.2 1877.7) scale(1 1)" font-size="10.5">bw=0.2</text>
</svg>
</body></html>
